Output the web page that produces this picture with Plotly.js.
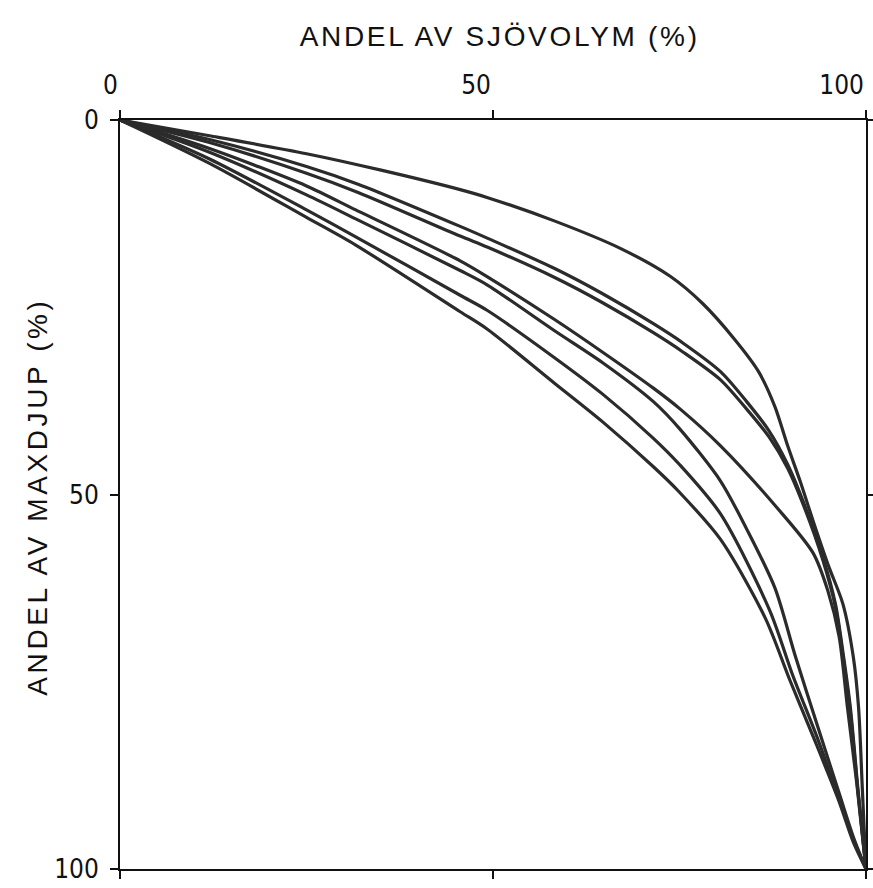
<!DOCTYPE html>
<html>
<head>
<meta charset="utf-8">
<script src="https://cdn.plot.ly/plotly-3.0.1.min.js"></script>
<style>
  html, body { margin: 0; padding: 0; background: #fff; }
  #chart { width: 873px; height: 888px; }
  .annotation[data-index="0"] text { letter-spacing: 2.7px; }
  .annotation[data-index="1"] text { letter-spacing: 3.6px; }
</style>
</head>
<body>
<div id="chart"></div>
<script>
// Andel av sjövolym (%) (x) vs andel av maxdjup (%) (y) — one curve per lake
const curveAx = [0, 12, 25, 35, 45.6, 49.4, 58.3, 67.2, 73.8, 78.1, 82.4, 85.6, 87.8, 89.5, 91.2, 93.0, 95.0, 96.9, 98.3, 99.0, 99.5, 100];
const curveAy = [0, 2.1, 4.5, 6.7, 9.3, 10.4, 13.5, 17.2, 20.9, 24.5, 29.3, 33.6, 38.3, 43.5, 48.3, 53.8, 59.6, 64.6, 71.7, 78.4, 89.1, 100];

const curveBx = [0, 12, 25, 32, 45.6, 49.3, 58.2, 64.7, 71.5, 75.5, 80.5, 84, 87, 89.5, 91.8, 94.2, 95.9, 97.0, 97.9, 98.9, 100];
const curveBy = [0, 2.6, 6.2, 8.6, 14.2, 15.8, 19.8, 23.2, 27.2, 29.8, 33.6, 37.6, 41.5, 46.0, 51.5, 58.3, 64.6, 71.7, 78.4, 89.1, 100];

const curveCx = [0, 12, 25, 32, 45.6, 49.3, 58.2, 64.7, 71.5, 75.5, 80.5, 84, 87, 89.5, 91.8, 94.2, 95.9, 97.0, 97.9, 98.9, 100];
const curveCy = [0, 3.0, 7.1, 9.7, 15.5, 17.0, 21.0, 24.4, 28.4, 31.0, 34.7, 38.6, 42.3, 46.5, 51.9, 58.7, 65.0, 72.2, 79.0, 89.5, 100];

const curveDx = [0, 12, 25, 31.6, 45.6, 49.2, 58.2, 64.7, 71.5, 75.1, 80.5, 88.1, 92.9, 94.9, 96.4, 97.5, 98.8, 100];
const curveDy = [0, 3.8, 8.8, 12.0, 18.8, 20.9, 26.6, 31.0, 35.8, 38.6, 43.5, 51.8, 57.8, 62.9, 69.0, 78.3, 88.9, 100];

const curveEx = [0, 12, 25, 31.6, 45.6, 49.2, 58.2, 64.7, 71.5, 75.0, 80.5, 84.0, 87.8, 90.5, 93.6, 96.5, 98.4, 100];
const curveEy = [0, 4.3, 10.0, 13.2, 20.1, 22.0, 28.1, 32.4, 37.6, 41.2, 48.2, 54.6, 62.5, 71.5, 81.2, 90.2, 96.0, 100];

const curveFx = [0, 12, 25, 31.6, 45.6, 49.2, 58.2, 64.7, 71.5, 75.0, 80.5, 87.1, 90.2, 93.4, 96.4, 98.4, 100];
const curveFy = [0, 5.2, 12.0, 15.6, 23.4, 25.4, 31.7, 36.6, 42.5, 46.0, 52.6, 65.5, 74.2, 82.3, 90.6, 96.2, 100];

const curveGx = [0, 12, 25, 31.6, 45.6, 49.2, 58.2, 64.7, 71.5, 74.9, 80.5, 86.5, 89.8, 93.2, 96.4, 98.3, 100];
const curveGy = [0, 5.8, 13.0, 16.7, 25.6, 27.9, 35.1, 40.3, 46.3, 49.6, 56.0, 66.5, 74.8, 83.0, 91.0, 96.4, 100];

const xTicks = [0, 50, 100];
const yTicks = [0, 50, 100];
const xTitle = 'ANDEL AV SJÖVOLYM (%)';
const yTitle = 'ANDEL AV MAXDJUP (%)';

const series = [
  [curveAx, curveAy], [curveBx, curveBy], [curveCx, curveCy], [curveDx, curveDy],
  [curveEx, curveEy], [curveFx, curveFy], [curveGx, curveGy]
];

const traces = series.map(([xs, ys]) => ({
  x: xs, y: ys, type: 'scatter', mode: 'lines',
  line: { color: '#2b2b2b', width: 3.2, shape: 'spline', smoothing: 0.8 },
  hoverinfo: 'skip', showlegend: false
}));

const tickFont = { family: '"DejaVu Sans Condensed", "Liberation Sans Narrow", "DejaVu Sans", sans-serif', size: 26, color: '#111' };
const titleFont = { family: '"Liberation Sans", Arial, sans-serif', size: 28, color: '#111' };

const layout = {
  width: 873, height: 888,
  margin: { l: 120, r: 7, t: 120, b: 19, pad: 0 },
  paper_bgcolor: '#fff', plot_bgcolor: '#fff',
  showlegend: false,
  xaxis: {
    side: 'top', range: [0, 100], tickvals: xTicks, ticktext: xTicks.map(String),
    showgrid: false, zeroline: false, showline: true, linecolor: '#111', linewidth: 2,
    mirror: 'ticks', ticks: 'outside', ticklen: 8, tickwidth: 2, tickcolor: '#111',
    tickfont: tickFont, ticklabelposition: 'outside left', ticklabeloverflow: 'allow',
    ticklabelstandoff: 14, fixedrange: true
  },
  yaxis: {
    range: [100, 0], tickvals: yTicks, ticktext: yTicks.map(String),
    showgrid: false, zeroline: false, showline: true, linecolor: '#111', linewidth: 2,
    mirror: 'ticks', ticks: 'outside', ticklen: 8, tickwidth: 2, tickcolor: '#111',
    tickfont: tickFont, ticklabelstandoff: 6, fixedrange: true
  },
  annotations: [
    { text: xTitle, xref: 'paper', yref: 'paper', x: 0.509, y: 1.112,
      xanchor: 'center', yanchor: 'middle', showarrow: false, font: titleFont },
    { text: yTitle, xref: 'paper', yref: 'paper', x: -0.11, y: 0.497, textangle: -90,
      xanchor: 'center', yanchor: 'middle', showarrow: false, font: titleFont }
  ]
};

Plotly.newPlot('chart', traces, layout, { staticPlot: true, displayModeBar: false });
</script>
</body>
</html>
